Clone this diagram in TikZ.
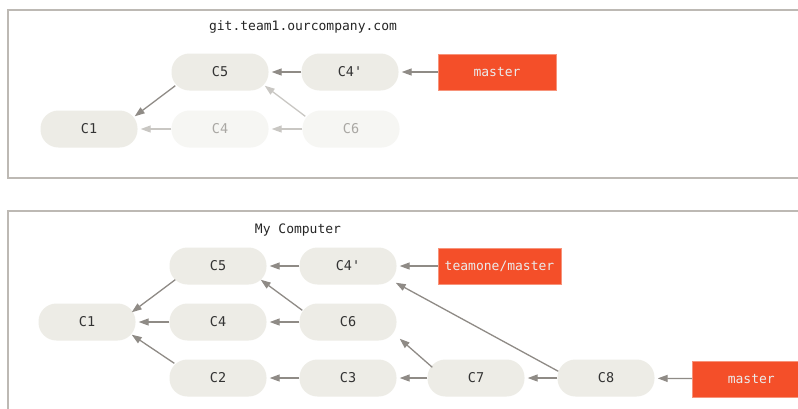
\documentclass[tikz,border=0pt]{standalone}
\usepackage{fontspec}
\setmonofont{DejaVu Sans Mono}
\usetikzlibrary{arrows.meta}
\definecolor{frame}{HTML}{BDB9B4}
\definecolor{commit}{HTML}{EDECE6}
\definecolor{fadecommit}{HTML}{F6F6F3}
\definecolor{commitText}{HTML}{333333}
\definecolor{fadeText}{HTML}{A9A7A3}
\definecolor{arrowc}{HTML}{8F8B86}
\definecolor{fadearrow}{HTML}{C9C7C3}
\definecolor{branch}{HTML}{F44F29}
\definecolor{branchEdge}{HTML}{F7937A}
\begin{document}
\begin{tikzpicture}[x=1pt,y=-1pt,
  commitnode/.style={rounded corners=18pt, fill=commit, minimum width=97pt, minimum height=37pt,
    inner sep=0pt, font=\ttfamily\fontsize{13.5}{13.5}\selectfont, text=commitText},
  fadenode/.style={commitnode, fill=fadecommit, text=fadeText},
  branchnode/.style={fill=branch, draw=branchEdge, line width=0.6pt, minimum height=36pt,
    inner sep=0pt, font=\ttfamily\fontsize{13}{13}\selectfont, text=white!92!black},
  parent/.style={draw=arrowc, line width=1.3pt, -{Triangle[length=10pt,width=7pt]}, shorten >=3pt},
  diag/.style={parent, shorten >=0pt},
  fadeparent/.style={parent, draw=fadearrow},
  fadediag/.style={diag, draw=fadearrow},
  framebox/.style={draw=frame, line width=1.3pt},
  title/.style={font=\ttfamily\fontsize{13}{13}\selectfont, text=black!85}
]
\useasboundingbox (0,0) rectangle (798,408);
\clip (0,0) rectangle (798,408);
\fill[white] (0,0) rectangle (798,408);

% frames
\draw[framebox] (820,10) -- (8,10) -- (8,178) -- (820,178);
\draw[framebox] (820,211) -- (8,211) -- (8,420);

% ---- top: server ----
\node[title] (srvtitle) at (303,27) {git.team1.ourcompany.com};
\node[commitnode] (sC5) at (220,72) {C5};
\node[commitnode] (sC4p) at (350,72) {C4'};
\node[branchnode, minimum width=118pt] (sMaster) at (497,72) {master};
\node[commitnode] (sC1) at (89,129) {C1};
\node[fadenode] (sC4) at (220,129) {C4};
\node[fadenode] (sC6) at (351,129) {C6};

\draw[diag] ([shift={(4,-5)}]sC5.south west) -- ([shift={(-3,6)}]sC1.north east);
\draw[parent] (sC4p) -- (sC5);
\draw[parent] (sMaster) -- (sC4p);
\draw[fadeparent] (sC4) -- (sC1);
\draw[fadeparent] (sC6) -- (sC4);
\draw[fadediag] ([shift={(3,6)}]sC6.north west) -- ([shift={(-4,-5)}]sC5.south east);

% ---- bottom: my computer ----
\node[title] (mytitle) at (298,230) {My Computer};
\node[commitnode] (C5) at (218,266) {C5};
\node[commitnode] (C4p) at (348,266) {C4'};
\node[branchnode, minimum width=123pt] (tmaster) at (499.5,266) {teamone/master};
\node[commitnode] (C1) at (87,322) {C1};
\node[commitnode] (C4) at (218,322) {C4};
\node[commitnode] (C6) at (348,322) {C6};
\node[commitnode] (C2) at (218,378) {C2};
\node[commitnode] (C3) at (348,378) {C3};
\node[commitnode] (C7) at (476,378) {C7};
\node[commitnode] (C8) at (606,378) {C8};
\node[branchnode, minimum width=118pt, anchor=west] (master) at (692,379) {master};

\draw[diag] ([shift={(6,-5)}]C5.south west) -- ([shift={(-4,9)}]C1.north east);
\draw[parent] (C4p) -- (C5);
\draw[parent] (tmaster) -- (C4p);
\draw[parent] (C4) -- (C1);
\draw[parent] (C6) -- (C4);
\draw[diag] ([shift={(3,7)}]C6.north west) -- ([shift={(-6,-5)}]C5.south east);
\draw[diag] ([shift={(5,4)}]C2.north west) -- ([shift={(-4,-6)}]C1.south east);
\draw[parent] (C3) -- (C2);
\draw[parent] (C7) -- (C3);
\draw[diag] ([shift={(5,8)}]C7.north west) -- ([shift={(3,-2)}]C6.south east);
\draw[parent] (C8) -- (C7);
\draw[diag] ([shift={(1,12)}]C8.north west) -- ([shift={(-1,-2)}]C4p.south east);
\draw[parent] (master) -- (C8);
\end{tikzpicture}
\end{document}
